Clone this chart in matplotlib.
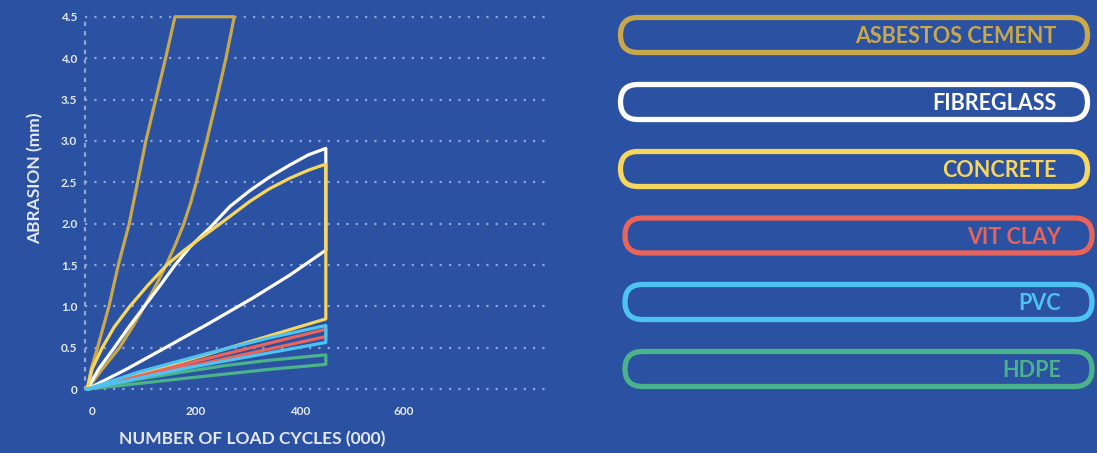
import matplotlib
matplotlib.use("Agg")
import matplotlib.pyplot as plt
from matplotlib.patches import FancyBboxPatch
from matplotlib.transforms import ScaledTranslation

plt.rcParams['font.family'] = ['Lato', 'DejaVu Sans']

# colours
BG = "#2a51a2"
GRID = "#8ea5d8"
TXT = "#e4e8f2"
colors = {
    "ASBESTOS CEMENT": "#c9a74b",
    "FIBREGLASS": "#ffffff",
    "CONCRETE": "#f7d65e",
    "VIT CLAY": "#e9645a",
    "PVC": "#4ec3f1",
    "HDPE": "#4bb389",
}
legend_order = ["ASBESTOS CEMENT", "FIBREGLASS", "CONCRETE", "VIT CLAY", "PVC", "HDPE"]

# ---- data: upper / lower bound of each band (load cycles 000, abrasion mm)
asbestos_hi_x = [0, 8, 20, 31, 42, 60, 81, 97, 113, 132, 151, 169]
asbestos_hi_y = [0, 0.25, 0.5, 0.75, 1.0, 1.5, 2.0, 2.5, 3.0, 3.5, 4.0, 4.5]
asbestos_lo_x = [0, 30, 62, 87, 110, 132, 152, 170, 186, 199, 210, 230, 249, 267, 283]
asbestos_lo_y = [0, 0.25, 0.5, 0.75, 1.0, 1.25, 1.5, 1.75, 2.0, 2.25, 2.5, 3.0, 3.5, 4.0, 4.5]

fibre_hi_x = [0, 23, 52, 80, 110, 140, 169, 198, 236, 275, 313, 350, 390, 425, 459]
fibre_hi_y = [0, 0.25, 0.5, 0.75, 1.0, 1.25, 1.5, 1.72, 1.95, 2.21, 2.40, 2.56, 2.71, 2.83, 2.91]
fibre_lo_x = [0, 75, 150, 230, 318, 390, 459]
fibre_lo_y = [0, 0.24, 0.5, 0.78, 1.1, 1.38, 1.68]

concrete_hi_x = [0, 10, 29, 52, 82, 116, 153, 185, 217, 256, 313, 350, 390, 425, 459]
concrete_hi_y = [0, 0.25, 0.5, 0.75, 1.0, 1.25, 1.5, 1.67, 1.82, 2.0, 2.27, 2.42, 2.55, 2.645, 2.72]
concrete_lo_x = [0, 230, 459]
concrete_lo_y = [0, 0.42, 0.85]

clay_hi_x = [0, 230, 459]
clay_hi_y = [0, 0.37, 0.725]
clay_lo_x = [0, 230, 459]
clay_lo_y = [0, 0.32, 0.636]

pvc_hi_x = [0, 100, 230, 350, 459]
pvc_hi_y = [0, 0.21, 0.43, 0.62, 0.77]
pvc_lo_x = [0, 186, 459]
pvc_lo_y = [0, 0.25, 0.565]

hdpe_hi_x = [0, 90, 186, 270, 350, 459]
hdpe_hi_y = [0, 0.11, 0.21, 0.29, 0.35, 0.415]
hdpe_lo_x = [0, 186, 350, 459]
hdpe_lo_y = [0, 0.13, 0.24, 0.30]

bands = {
    "ASBESTOS CEMENT": (asbestos_hi_x, asbestos_hi_y, asbestos_lo_x, asbestos_lo_y),
    "FIBREGLASS": (fibre_hi_x, fibre_hi_y, fibre_lo_x, fibre_lo_y),
    "CONCRETE": (concrete_hi_x, concrete_hi_y, concrete_lo_x, concrete_lo_y),
    "HDPE": (hdpe_hi_x, hdpe_hi_y, hdpe_lo_x, hdpe_lo_y),
    "VIT CLAY": (clay_hi_x, clay_hi_y, clay_lo_x, clay_lo_y),
    "PVC": (pvc_hi_x, pvc_hi_y, pvc_lo_x, pvc_lo_y),
}

y_ticks = [0, 0.5, 1.0, 1.5, 2.0, 2.5, 3.0, 3.5, 4.0, 4.5]
y_labels = ["0", "0.5", "1.0", "1.5", "2.0", "2.5", "3.0", "3.5", "4.0", "4.5"]
x_ticks = [0, 200, 400, 600]

W, H = 1097, 453
fig = plt.figure(figsize=(W / 100, H / 100), dpi=100)
fig.patch.set_facecolor(BG)

# overlay in pixel units for the pill legend
ov = fig.add_axes([0, 0, 1, 1])
ov.set_xlim(0, W)
ov.set_ylim(H, 0)
ov.axis("off")

pill_top = [17.5, 84.5, 151.5, 218, 284.5, 351.5]
pill_left = [620.5, 620.5, 620.5, 625, 625, 625]
for i, name in enumerate(legend_order):
    c = colors[name]
    x0, y0 = pill_left[i], pill_top[i]
    w, h = 467, 35
    ov.add_patch(FancyBboxPatch((x0, y0), w, h,
                                boxstyle="round,pad=0,rounding_size=17.5",
                                fc="none", ec=c, lw=3.8))
    ov.text(x0 + w - 31, y0 + h / 2 + 8, name, color=c, fontsize=15.5,
            fontweight="bold", ha="right", va="baseline")

# main chart
ax = fig.add_axes([85 / W, 0.1316, 465 / W, 0.8406])
ax.set_facecolor("none")
ax.set_xlim(-4, 890)
ax.set_ylim(-0.05, 4.55)

for name, (hx, hy, lx, ly) in bands.items():
    xs = list(hx) + list(lx)[::-1]
    ys = list(hy) + list(ly)[::-1]
    ax.plot(xs, ys, color=colors[name], lw=2.3, clip_on=False,
            solid_joinstyle="round", solid_capstyle="round")

ax.set_yticks(y_ticks)
ax.set_yticklabels(y_labels)
ax.set_xticks(x_ticks)
ax.set_xticklabels([str(v) for v in x_ticks])
ax.tick_params(length=0, colors=TXT, labelsize=8.5)
ax.tick_params(axis="y", pad=5.5)
ax.tick_params(axis="x", pad=9)
for lab in ax.get_xticklabels() + ax.get_yticklabels():
    lab.set_fontweight("bold")
off = ScaledTranslation(5 / 100, 0, fig.dpi_scale_trans)
for lab in ax.get_xticklabels():
    lab.set_transform(lab.get_transform() + off)

ax.grid(axis="y", color=GRID, linestyle=(0, (1, 3.2)), lw=1.6)
for s in ["top", "right", "bottom"]:
    ax.spines[s].set_visible(False)
ax.spines["left"].set_color(GRID)
ax.spines["left"].set_linestyle((0, (1, 3.2)))
ax.spines["left"].set_linewidth(1.6)
ax.spines["left"].set_bounds(0, 4.5)
ax.set_axisbelow(True)

fig.text(252 / W, 1 - 439 / H, "NUMBER OF LOAD CYCLES (000)", color=TXT,
         fontsize=12.5, fontweight="bold", ha="center", va="center")
fig.text(35 / W, 1 - 178 / H, "ABRASION (mm)", color=TXT, rotation=90,
         fontsize=12.5, fontweight="bold", ha="center", va="center")

fig.savefig("out.png", dpi=100, facecolor=BG)
